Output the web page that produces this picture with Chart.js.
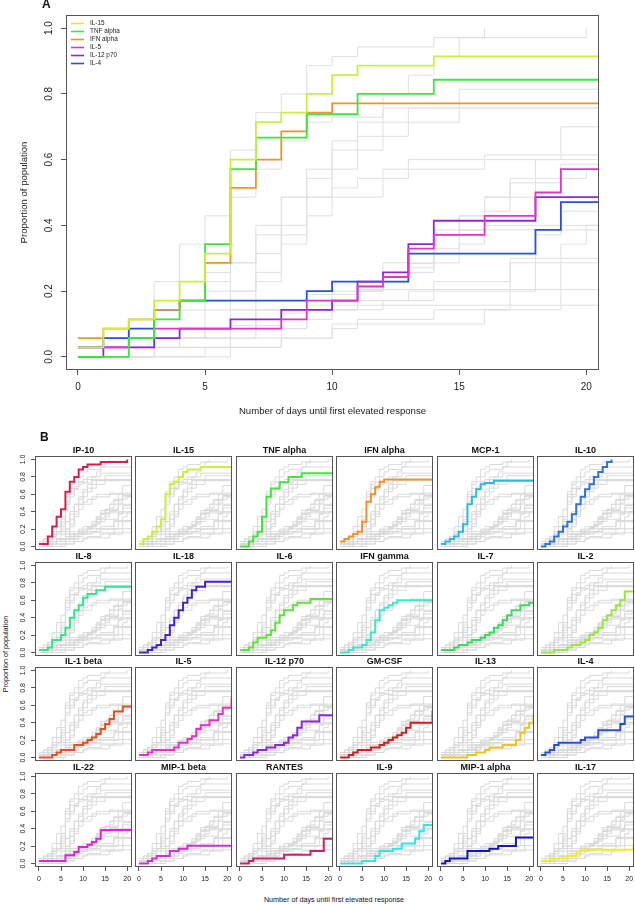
<!DOCTYPE html>
<html>
<head>
<meta charset="utf-8">
<script src="https://cdn.jsdelivr.net/npm/chart.js@4.4.1/dist/chart.umd.min.js"></script>
<style>
  body { margin:0; background:#fff; width:635px; height:904px; position:relative; overflow:hidden;
         font-family:"Liberation Sans", Arial, Helvetica, sans-serif; }
  canvas { position:absolute; }
  .lbl { position:absolute; color:#111; white-space:nowrap; }
</style>
</head>
<body>
<canvas id="chartA" width="635" height="420" style="left:0;top:0"></canvas>
<div class="lbl" style="left:42px;top:-3px;font-weight:bold;font-size:12px">A</div>
<div class="lbl" style="left:40px;top:430px;font-weight:bold;font-size:12px">B</div>
<div class="lbl" style="left:334px;top:899px;font-size:7.2px;transform:translate(-50%,-50%)">Number of days until first elevated response</div>
<div class="lbl" style="left:5px;top:654px;font-size:7.2px;transform:translate(-50%,-50%) rotate(-90deg)">Proportion of population</div>
<script>
// ---------- data (day, proportion) ----------
const cytokineNames = ["IP-10","IL-15","TNF alpha","IFN alpha","MCP-1","IL-10",
  "IL-8","IL-18","IL-6","IFN gamma","IL-7","IL-2",
  "IL-1 beta","IL-5","IL-12 p70","GM-CSF","IL-13","IL-4",
  "IL-22","MIP-1 beta","RANTES","IL-9","MIP-1 alpha","IL-17"];

const ip10   = [[0,0.029],[2,0.114],[3,0.229],[4,0.343],[5,0.429],[6,0.629],[7,0.743],[8,0.8],[9,0.886],[10,0.914],[11,0.943],[14,0.971],[20,1.0]];
const il15   = [[0,0.029],[1,0.086],[2,0.114],[3,0.171],[4,0.229],[5,0.314],[6,0.6],[7,0.714],[8,0.743],[9,0.8],[10,0.857],[11,0.886],[14,0.914],[21,0.914]];
const tnfa   = [[0,0],[2,0.057],[3,0.114],[4,0.171],[5,0.343],[6,0.571],[7,0.667],[9,0.738],[11,0.8],[14,0.843],[21,0.843]];
const ifna   = [[0,0.057],[1,0.086],[2,0.114],[3,0.143],[4,0.171],[5,0.286],[6,0.514],[7,0.6],[8,0.686],[9,0.743],[10,0.771],[21,0.771]];
const mcp1   = [[0,0.029],[1,0.057],[2,0.086],[3,0.114],[4,0.171],[5,0.257],[6,0.486],[7,0.571],[8,0.657],[9,0.714],[10,0.729],[12,0.757],[21,0.757]];
const il10   = [[0,0],[1,0.029],[2,0.057],[3,0.114],[4,0.171],[5,0.229],[6,0.286],[7,0.371],[8,0.486],[9,0.571],[10,0.657],[11,0.714],[12,0.8],[13,0.857],[14,0.914],[15,0.971],[16,1.0]];
const il8    = [[0,0.029],[2,0.057],[3,0.143],[5,0.2],[6,0.286],[7,0.4],[8,0.486],[9,0.543],[10,0.629],[11,0.671],[13,0.714],[15,0.757],[21,0.757]];
const il18   = [[0,0],[2,0.029],[3,0.057],[4,0.086],[5,0.143],[6,0.2],[7,0.314],[8,0.4],[9,0.486],[10,0.571],[11,0.629],[12,0.714],[13,0.757],[15,0.814],[21,0.814]];
const il6    = [[0,0.029],[2,0.057],[3,0.114],[4,0.171],[6,0.2],[7,0.257],[8,0.343],[9,0.429],[10,0.486],[12,0.543],[13,0.571],[16,0.614],[21,0.614]];
const ifng   = [[0,0],[2,0.029],[3,0.057],[5,0.086],[6,0.143],[7,0.229],[8,0.371],[9,0.486],[10,0.514],[11,0.543],[12,0.571],[13,0.6],[21,0.6]];
const il7    = [[0,0.029],[3,0.057],[4,0.086],[6,0.114],[7,0.143],[9,0.171],[10,0.2],[11,0.229],[12,0.286],[13,0.314],[14,0.371],[15,0.429],[16,0.486],[18,0.543],[20,0.571],[21,0.571]];
const il2    = [[0,0],[3,0.029],[6,0.057],[7,0.086],[9,0.114],[10,0.143],[11,0.2],[12,0.229],[13,0.286],[14,0.371],[15,0.429],[16,0.486],[17,0.543],[18,0.6],[19,0.7],[21,0.7]];
const il1b   = [[0,0],[3,0.029],[4,0.057],[5,0.086],[8,0.143],[10,0.171],[11,0.2],[12,0.229],[13,0.271],[14,0.329],[15,0.386],[16,0.443],[17,0.529],[19,0.586],[21,0.586]];
const il5    = [[0,0.029],[2,0.057],[3,0.086],[8,0.114],[9,0.171],[11,0.214],[12,0.243],[13,0.329],[14,0.371],[16,0.429],[18,0.5],[19,0.571],[21,0.686]];
const il12   = [[0,0],[1,0.029],[3,0.057],[4,0.086],[6,0.114],[8,0.143],[10,0.171],[11,0.229],[12,0.257],[13,0.343],[14,0.414],[18,0.486],[21,0.486]];
const gmcsf  = [[0,0],[2,0.029],[3,0.057],[4,0.086],[7,0.114],[9,0.143],[10,0.171],[11,0.2],[12,0.229],[13,0.257],[14,0.286],[15,0.343],[16,0.4],[21,0.543]];
const il13   = [[0,0],[6,0.029],[8,0.057],[10,0.086],[11,0.114],[14,0.143],[17,0.2],[18,0.286],[19,0.343],[20,0.4],[21,0.5]];
const il4    = [[0,0.029],[1,0.057],[2,0.086],[3,0.143],[4,0.171],[9,0.2],[10,0.229],[13,0.314],[18,0.386],[19,0.471],[21,0.471]];
const il22   = [[0,0.029],[6,0.095],[8,0.133],[9,0.19],[11,0.216],[12,0.246],[13,0.284],[14,0.386],[21,0.386]];
const mip1b  = [[0,0],[2,0.029],[3,0.057],[4,0.086],[7,0.143],[9,0.171],[11,0.205],[21,0.205]];
const rantes = [[0,0],[2,0.029],[3,0.057],[10,0.1],[16,0.143],[19,0.286],[21,0.286]];
const il9    = [[0,0],[5,0.029],[8,0.086],[9,0.143],[12,0.171],[14,0.229],[17,0.286],[18,0.371],[19,0.443],[21,0.443]];
const mip1a  = [[0,0],[1,0.029],[2,0.057],[6,0.143],[11,0.171],[13,0.2],[17,0.3],[21,0.3]];
const il17   = [[0,0.029],[2,0.057],[6,0.086],[8,0.114],[9,0.157],[21,0.229]];

const curves = [ip10, il15, tnfa, ifna, mcp1, il10, il8, il18, il6, ifng, il7, il2,
                il1b, il5, il12, gmcsf, il13, il4, il22, mip1b, rantes, il9, mip1a, il17];

const lineColors = ["#d61f4b","#c8f03c","#3ee63e","#f0922e","#2eb6e6","#2e73d8",
  "#2ee68c","#4422cc","#5ae632","#3ee6c8","#3ed860","#96e63c",
  "#e6501e","#e632c8","#8c28dc","#d21e1e","#f0c028","#2850d8",
  "#e61ee6","#c832d2","#d21e64","#32e6e6","#1414c0","#f0f01e"];

const panelANames = ["IL-15","TNF alpha","IFN alpha","IL-5","IL-12 p70","IL-4"];
const xTickValues = [0,5,10,15,20];
const yTickValues = [0,0.2,0.4,0.6,0.8,1.0];

// ---------- helpers ----------
Chart.defaults.font.family = '"Liberation Sans", Arial, Helvetica, sans-serif';
Chart.defaults.color = '#222';
const FONT = '"Liberation Sans", Arial, Helvetica, sans-serif';

function toPoints(c) { return c.map(p => ({x: p[0], y: p[1]})); }

const boxPlugin = {
  id: 'boxFrame',
  afterDraw(chart) {
    const a = chart.chartArea, ctx = chart.ctx;
    ctx.save();
    ctx.strokeStyle = '#555';
    ctx.lineWidth = 1;
    ctx.strokeRect(Math.round(a.left) + 0.5, Math.round(a.top) + 0.5,
                   Math.round(a.right - a.left) - 1, Math.round(a.bottom - a.top) - 1);
    ctx.restore();
  }
};

const legendAPlugin = {
  id: 'legendA',
  afterDraw(chart) {
    const a = chart.chartArea, ctx = chart.ctx;
    ctx.save();
    ctx.font = '6.4px ' + FONT;
    ctx.textBaseline = 'middle';
    ctx.textAlign = 'left';
    panelANames.forEach((n, k) => {
      const i = cytokineNames.indexOf(n);
      const y = a.top + 8.5 + k * 8;
      ctx.strokeStyle = lineColors[i];
      ctx.lineWidth = 1.6;
      ctx.beginPath();
      ctx.moveTo(a.left + 5, y);
      ctx.lineTo(a.left + 18, y);
      ctx.stroke();
      ctx.fillStyle = '#222';
      ctx.fillText(n, a.left + 24, y);
    });
    ctx.restore();
  }
};

// ---------- Panel A ----------
const dsA = cytokineNames.map((n, i) => {
  const hl = panelANames.includes(n);
  return {
    label: n, data: toPoints(curves[i]), stepped: true,
    borderColor: hl ? lineColors[i] : '#e0e0e0',
    borderWidth: hl ? 1.8 : 1,
    pointRadius: 0, fill: false, order: hl ? 0 : 1, clip: 0
  };
});

new Chart(document.getElementById('chartA'), {
  type: 'line',
  data: { datasets: dsA },
  options: {
    responsive: false, animation: false,
    layout: { padding: { top: 15, right: 36, left: 0, bottom: 0 } },
    plugins: { legend: { display: false }, tooltip: { enabled: false } },
    scales: {
      x: {
        type: 'linear', min: -0.47, max: 20.5,
        afterBuildTicks: s => { s.ticks = xTickValues.map(v => ({value: v})); },
        afterFit: s => { s.height = 50; },
        border: { display: false },
        grid: { drawOnChartArea: false, drawTicks: true, tickLength: 5, color: '#555' },
        ticks: { font: { size: 10 }, color: '#222', padding: 6, maxRotation: 0 },
        title: { display: true, text: 'Number of days until first elevated response',
                 font: { size: 9.6 }, color: '#222', padding: { top: 0, bottom: 3.2 } }
      },
      y: {
        type: 'linear', min: -0.04, max: 1.04,
        afterBuildTicks: s => { s.ticks = yTickValues.map(v => ({value: v})); },
        afterFit: s => { s.width = 66; },
        border: { display: false },
        grid: { drawOnChartArea: false, drawTicks: true, tickLength: 5, color: '#555' },
        ticks: { font: { size: 10 }, color: '#222', padding: 5, minRotation: 90, maxRotation: 90,
                 crossAlign: 'center', callback: v => Number(v).toFixed(1) },
        title: { display: true, text: 'Proportion of population',
                 font: { size: 9.6 }, color: '#222', padding: { top: 19, bottom: 0 } }
      }
    }
  },
  plugins: [boxPlugin, legendAPlugin]
});

// ---------- Panel B (small multiples) ----------
const boxLefts = [35, 135, 236, 336, 437, 537];
const boxTops = [456, 562, 667, 773];
const BW = 97, BH = 94, YAX = 35, TTL = 11, XAX = 22, RPAD = 12;

cytokineNames.forEach((name, idx) => {
  const r = Math.floor(idx / 6), c = idx % 6;
  const cv = document.createElement('canvas');
  cv.width = YAX + BW + RPAD; cv.height = TTL + BH + XAX;
  cv.style.left = (boxLefts[c] - YAX) + 'px';
  cv.style.top = (boxTops[r] - TTL) + 'px';
  document.body.appendChild(cv);

  const ds = cytokineNames.map((n, i) => ({
    label: n, data: toPoints(curves[i]), stepped: true,
    borderColor: i === idx ? lineColors[i] : '#dadada',
    borderWidth: i === idx ? 2 : 1,
    pointRadius: 0, fill: false, order: i === idx ? 0 : 1, clip: 0
  }));
  const showY = c === 0, showX = r === 3;

  new Chart(cv, {
    type: 'line',
    data: { datasets: ds },
    options: {
      responsive: false, animation: false,
      layout: { padding: { left: 0, top: 0, bottom: 0, right: RPAD } },
      plugins: {
        legend: { display: false }, tooltip: { enabled: false },
        title: { display: true, text: name, fullSize: false, color: '#111',
                 font: { size: 9, weight: 'bold' }, padding: { top: 0, bottom: 0.2 } }
      },
      scales: {
        x: {
          type: 'linear', min: -0.9, max: 21.1,
          afterBuildTicks: s => { s.ticks = xTickValues.map(v => ({value: v})); },
          afterFit: s => { s.height = XAX; },
          border: { display: false },
          grid: { display: showX, drawOnChartArea: false, drawTicks: true, tickLength: 4, color: '#555' },
          ticks: { display: showX, font: { size: 7 }, color: '#222', padding: 4, maxRotation: 0 }
        },
        y: {
          type: 'linear', min: -0.04, max: 1.04,
          afterBuildTicks: s => { s.ticks = yTickValues.map(v => ({value: v})); },
          afterFit: s => { s.width = YAX; },
          border: { display: false },
          grid: { display: showY, drawOnChartArea: false, drawTicks: true, tickLength: 4, color: '#555' },
          ticks: { display: showY, font: { size: 7 }, color: '#222', padding: 3.5, minRotation: 90,
                   maxRotation: 90, crossAlign: 'center', callback: v => Number(v).toFixed(1) }
        }
      }
    },
    plugins: [boxPlugin]
  });
});
</script>
</body>
</html>
